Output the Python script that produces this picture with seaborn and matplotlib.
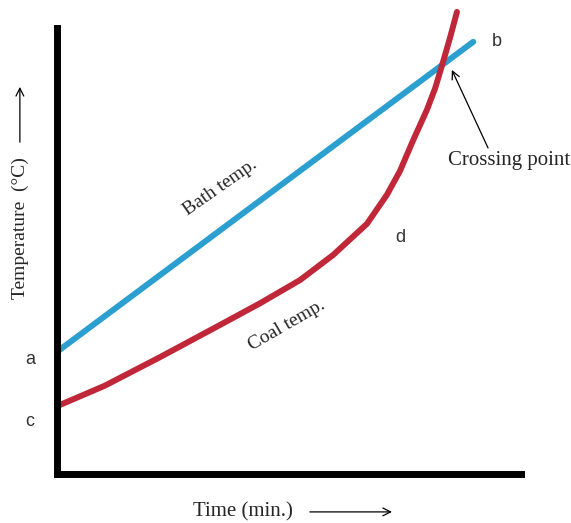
import numpy as np
import pandas as pd
import matplotlib
matplotlib.use("Agg")
import matplotlib.pyplot as plt
import seaborn as sns

# ---- data (arbitrary units 0-100) ----
bath_time = [0.0, 89.7]
bath_temp = [27.4, 96.9]

coal_time = [0.0, 10.3, 22.2, 35.1, 43.8, 52.4, 59.5, 66.8, 71.1, 73.9,
             76.7, 79.7, 81.5, 83.2, 84.7, 86.2]
coal_temp = [15.2, 19.8, 26.2, 33.4, 38.3, 43.5, 49.1, 56.1, 62.6, 67.9,
             74.7, 81.6, 86.5, 92.4, 97.8, 103.6]

point_labels = ["a", "b", "c", "d"]

df_bath = pd.DataFrame({"Time": bath_time, "Temp": bath_temp})
df_coal = pd.DataFrame({"Time": coal_time, "Temp": coal_temp})

sns.set_style("white")
plt.rcParams["font.family"] = ["Liberation Serif", "DejaVu Serif"]

fig = plt.figure(figsize=(5.71, 5.23), dpi=100)
ax = fig.add_axes([57 / 571, 49 / 523, 464 / 571, 446 / 523])

sns.lineplot(data=df_bath, x="Time", y="Temp", color="#2b9fd0", linewidth=4.3,
             ax=ax, legend=False, clip_on=False, solid_capstyle="round")
sns.lineplot(data=df_coal, x="Time", y="Temp", color="#c0283a", linewidth=4.3,
             ax=ax, legend=False, clip_on=False, solid_capstyle="round",
             solid_joinstyle="round")

ax.set_xlim(0, 100)
ax.set_ylim(0, 100)
ax.set_xticks([])
ax.set_yticks([])
ax.set_xlabel("")
ax.set_ylabel("")
for s in ["top", "right"]:
    ax.spines[s].set_visible(False)
for s in ["left", "bottom"]:
    ax.spines[s].set_linewidth(5)
    ax.spines[s].set_color("black")

# point letters
sans = ["Liberation Sans", "DejaVu Sans"]
ax.text(-5.8, 25.6, point_labels[0], fontsize=13, family=sans, color="#333333",
        ha="center", va="center")
ax.text(94.8, 96.9, point_labels[1], fontsize=13, family=sans, color="#333333",
        ha="center", va="center")
ax.text(-5.8, 11.7, point_labels[2], fontsize=13, family=sans, color="#333333",
        ha="center", va="center")
ax.text(73.9, 53.1, point_labels[3], fontsize=13, family=sans, color="#333333",
        ha="center", va="center")

# curve labels
ax.text(35.1, 64.3, "Bath temp.", fontsize=14, rotation=35, ha="center", va="center",
        rotation_mode="anchor")
ax.text(49.6, 33.4, "Coal temp.", fontsize=14, rotation=30, ha="center", va="center",
        rotation_mode="anchor")

# crossing point
ax.text(97.4, 70.2, "Crossing point", fontsize=15, ha="center", va="center")
ax.annotate("", xy=(85.1, 90.6), xytext=(92.9, 73.1),
            arrowprops=dict(arrowstyle="->", color="black", lw=0.9,
                            mutation_scale=14, shrinkA=0, shrinkB=0),
            annotation_clip=False)

# axis labels with arrows
ax.text(-8.0, 55.2, "Temperature  (°C)", fontsize=14, rotation=90, ha="center", va="center")
ax.annotate("", xy=(-8.0, 86.8), xytext=(-8.0, 74.4),
            arrowprops=dict(arrowstyle="->", color="black", lw=0.9,
                            mutation_scale=14, shrinkA=0, shrinkB=0),
            annotation_clip=False)
ax.text(40.1, -8.5, "Time (min.)", fontsize=15, ha="center", va="center")
ax.annotate("", xy=(72.2, -8.5), xytext=(54.5, -8.5),
            arrowprops=dict(arrowstyle="->", color="black", lw=0.9,
                            mutation_scale=14, shrinkA=0, shrinkB=0),
            annotation_clip=False)

fig.savefig("out.png", dpi=100)
